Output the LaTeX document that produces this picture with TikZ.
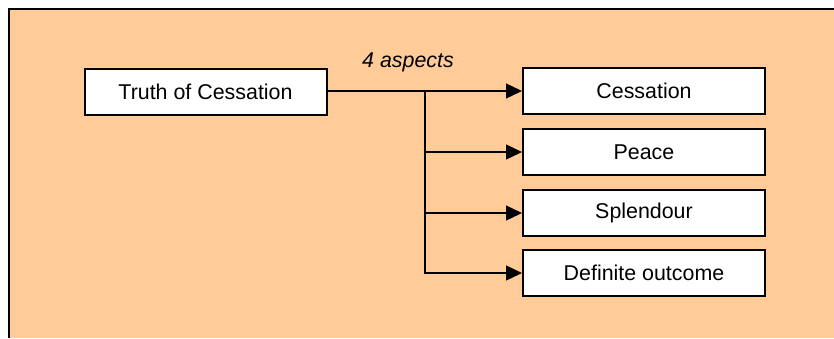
\documentclass[tikz,border=0pt]{standalone}
\usepackage{fontspec}
\setmainfont{Liberation Sans}
\usetikzlibrary{arrows.meta}
\definecolor{bgpeach}{HTML}{FFCC99}
\tikzset{
  box/.style={draw=black, fill=white, line width=1pt, minimum width=121pt, minimum height=23pt, inner sep=0pt, font=\fontsize{10.7}{12.8}\selectfont},
  conn/.style={draw=black, line width=0.65pt},
  arr/.style={conn, -{Triangle[length=8pt,width=7.5pt]}}
}
\begin{document}
\begin{tikzpicture}[x=0.5pt,y=-0.5pt]
\useasboundingbox (0,0) rectangle (834,338);
\fill[bgpeach] (8.5,8.5) rectangle (834,338);
\draw[black, line width=1pt] (834,8.5) -- (8.5,8.5) -- (8.5,338);
\node[box] (truth) at (205.5,92) {Truth of Cessation};
\node[box] (cess) at (644,91) {Cessation};
\node[box] (peace) at (644,152) {Peace};
\node[box] (splen) at (644,213) {Splendour};
\node[box] (defin) at (644,273) {Definite outcome};
\node[font=\fontsize{10.7}{12.8}\selectfont\itshape, inner sep=0pt] (lab) at (408,62) {4 aspects};
\coordinate (br) at (425,91);
\draw[arr] (truth.east |- cess.west) -- (cess.west);
\draw[arr] (br) |- (peace.west);
\draw[arr] (br) |- (splen.west);
\draw[arr] (br) |- (defin.west);
\end{tikzpicture}
\end{document}
